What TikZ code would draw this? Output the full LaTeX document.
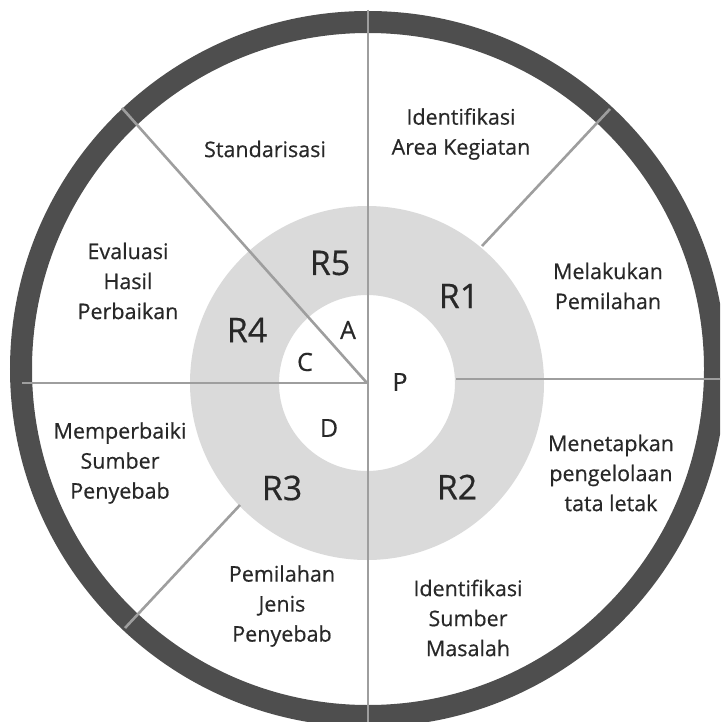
\documentclass[tikz,border=0pt]{standalone}
\usepackage{fontspec}
\setmainfont{Open Sans}
\newfontfamily\labelfont[FakeBold=0.5]{Open Sans}

\definecolor{ringgray}{RGB}{78,78,78}
\definecolor{donutgray}{RGB}{218,218,218}
\definecolor{spokegray}{RGB}{158,158,158}
\definecolor{textgray}{RGB}{40,40,40}

\begin{document}
\begin{tikzpicture}[
    x=1pt, y=-1pt,
    sectortext/.style={align=center, inner sep=0pt, text=textgray,
        font=\labelfont\fontsize{21.5}{30}\selectfont},
    ringtext/.style={inner sep=0pt, text=textgray, font=\labelfont\fontsize{34}{40}\selectfont},
    lettertext/.style={inner sep=0pt, text=textgray, font=\labelfont\fontsize{25}{28}\selectfont},
    spoke/.style={spokegray, line width=2.6pt}
]
    \useasboundingbox (0,0) rectangle (720,722);
    \clip (0,0) rectangle (720,722);

    % Centres: outer ring and inner donut
    \coordinate (ringc) at (368,369);
    \coordinate (O) at (367,383);

    % Grey donut (R1..R5)
    \fill[donutgray, even odd rule] (O) circle[radius=177pt] (O) circle[radius=88pt];

    % Dark outer ring
    \draw[ringgray, line width=22pt] (ringc) circle[radius=347pt];

    % Spokes
    \coordinate (topend) at (368,10);
    \coordinate (botend) at (368,730);
    \coordinate (leftend) at (22,383);
    \coordinate (rightin) at (456,379);
    \coordinate (rightend) at (722,379);
    \coordinate (ulend) at (122,108);
    \coordinate (urin) at (482,246);
    \coordinate (urend) at (610,109);
    \coordinate (llin) at (240,505);
    \coordinate (llend) at (125,628);

    \draw[spoke] (topend) -- (botend);
    \draw[spoke] (O) -- (leftend);
    \draw[spoke] (rightin) -- (rightend);
    \draw[spoke] (O) -- (ulend);
    \draw[spoke] (urin) -- (urend);
    \draw[spoke] (llin) -- (llend);

    % Outer sectors
    \node[sectortext] (std) at (265,149) {Standarisasi};
    \node[sectortext] (area) at (461,134) {Identifikasi\\Area Kegiatan};
    \node[sectortext] (pilah) at (608,286) {Melakukan\\Pemilahan};
    \node[sectortext] (tata) at (611,473) {Menetapkan\\pengelolaan\\tata letak};
    \node[sectortext] (masalah) at (468,618) {Identifikasi\\Sumber\\Masalah};
    \node[sectortext] (jenis) at (282,606) {Pemilahan\\Jenis\\Penyebab};
    \node[sectortext] (perbaiki) at (120,463) {Memperbaiki\\Sumber\\Penyebab};
    \node[sectortext] (evaluasi) at (128,281) {Evaluasi\\Hasil\\Perbaikan};

    % Donut labels
    \node[ringtext] (r1) at (459,296) {R1};
    \node[ringtext] (r2) at (457,487) {R2};
    \node[ringtext] (r3) at (282,488) {R3};
    \node[ringtext] (r4) at (247,330) {R4};
    \node[ringtext] (r5) at (330,263) {R5};

    % Inner letters
    \node[lettertext] (pa) at (348,330) {A};
    \node[lettertext] (pc) at (305,362) {C};
    \node[lettertext] (pd) at (329,428) {D};
    \node[lettertext] (pp) at (400,382) {P};

\end{tikzpicture}
\end{document}
